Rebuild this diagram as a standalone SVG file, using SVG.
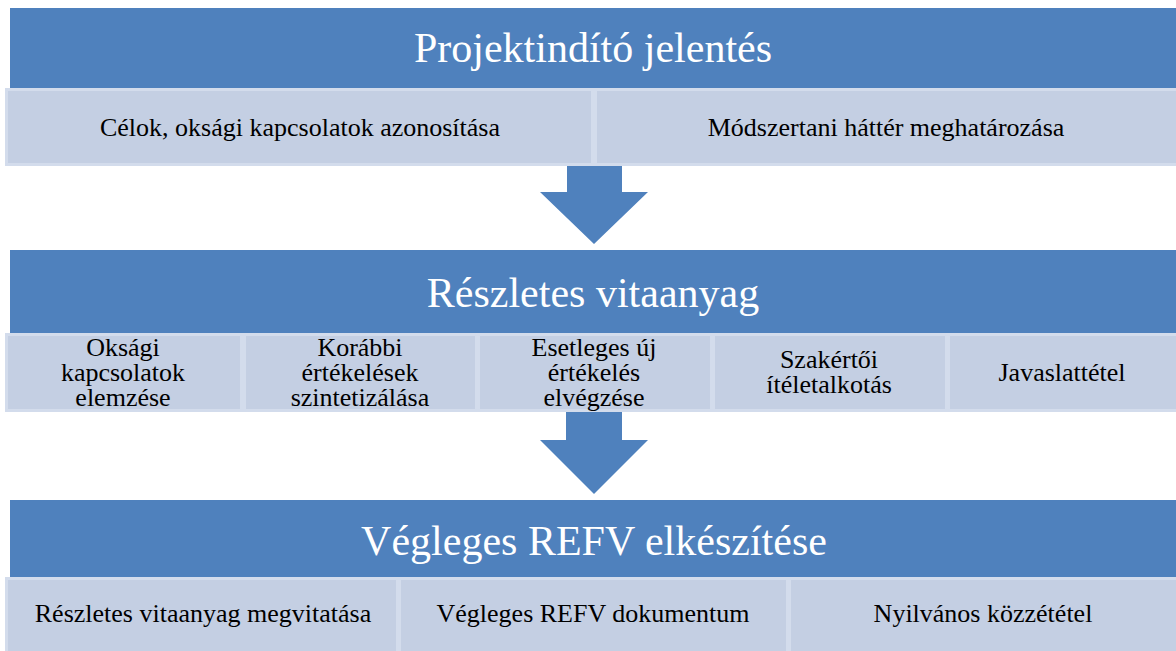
<svg xmlns="http://www.w3.org/2000/svg" width="1176" height="651" viewBox="0 0 1176 651">
<style>
.band{fill:#4f81bd}
.sub{fill:#c4cfe3;stroke:#d3dcec;stroke-width:3}
.arrow{fill:#4f81bd}
.title{font-family:"Liberation Serif","Times New Roman",serif;font-size:42px;fill:#ffffff;text-anchor:middle}
.lbl{font-family:"Liberation Serif","Times New Roman",serif;font-size:26px;fill:#000000;text-anchor:middle}
</style>
<rect width="1176" height="651" fill="#ffffff"/>
<g id="band1">
<rect class="band" x="10" y="8" width="1168" height="81"/>
<text class="title" x="593" y="62">Projektindító jelentés</text>
</g>
<g id="b1s1">
<rect class="sub" x="6.5" y="89.5" width="586" height="75"/>
<text class="lbl" x="300" y="136">Célok, oksági kapcsolatok azonosítása</text>
</g>
<g id="b1s2">
<rect class="sub" x="595.5" y="89.5" width="584" height="75"/>
<text class="lbl" x="886" y="136">Módszertani háttér meghatározása</text>
</g>
<g id="band2">
<rect class="band" x="10" y="250" width="1168" height="83"/>
<text class="title" x="593" y="307">Részletes vitaanyag</text>
</g>
<g id="b2s1">
<rect class="sub" x="6.5" y="334.5" width="235" height="76"/>
</g>
<g id="b2s2">
<rect class="sub" x="244.5" y="334.5" width="232" height="76"/>
</g>
<g id="b2s3">
<rect class="sub" x="478.5" y="334.5" width="233" height="76"/>
</g>
<g id="b2s4">
<rect class="sub" x="713.5" y="334.5" width="233" height="76"/>
</g>
<g id="b2s5">
<rect class="sub" x="948.5" y="334.5" width="231" height="76"/>
</g>
<g id="band3">
<rect class="band" x="10" y="500" width="1168" height="78"/>
<text class="title" x="594" y="555">Végleges REFV elkészítése</text>
</g>
<g id="b3s1">
<rect class="sub" x="6.5" y="578.5" width="391" height="76"/>
<text class="lbl" x="203" y="622">Részletes vitaanyag megvitatása</text>
</g>
<g id="b3s2">
<rect class="sub" x="399.5" y="578.5" width="388" height="76"/>
<text class="lbl" x="593" y="622">Végleges REFV dokumentum</text>
</g>
<g id="b3s3">
<rect class="sub" x="789.5" y="578.5" width="390" height="76"/>
<text class="lbl" x="983" y="622">Nyilvános közzététel</text>
</g>
<g id="connectors">
<polygon class="arrow" points="567,166 622,166 622,192 648,192 594,244 540,192 567,192"/>
<polygon class="arrow" points="566,412 622,412 622,440 648,440 594,494 540,440 566,440"/>
</g>
<g id="b2labels">
<text class="lbl" x="123" y="356">Oksági</text>
<text class="lbl" x="123" y="381">kapcsolatok</text>
<text class="lbl" x="123" y="406">elemzése</text>
<text class="lbl" x="360" y="356">Korábbi</text>
<text class="lbl" x="360" y="381">értékelések</text>
<text class="lbl" x="360" y="406">szintetizálása</text>
<text class="lbl" x="594" y="356">Esetleges új</text>
<text class="lbl" x="594" y="381">értékelés</text>
<text class="lbl" x="594" y="406">elvégzése</text>
<text class="lbl" x="829" y="368">Szakértői</text>
<text class="lbl" x="829" y="393">ítéletalkotás</text>
<text class="lbl" x="1062" y="381">Javaslattétel</text>
</g>
</svg>
